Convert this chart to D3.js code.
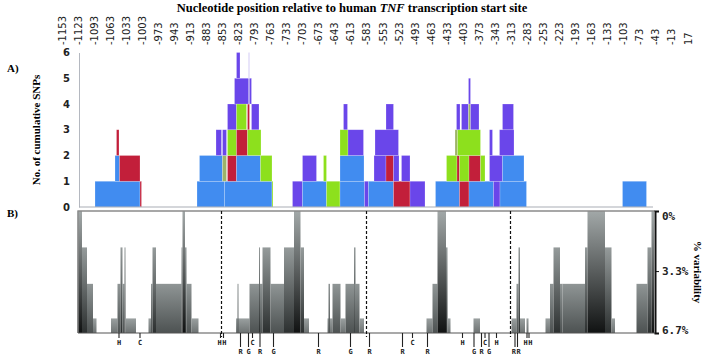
<!DOCTYPE html>
<html>
<head>
<meta charset="utf-8">
<script src="https://cdn.jsdelivr.net/npm/d3@7"></script>
<style>
body { margin: 0; background: #fff; }
</style>
</head>
<body>
<div id="chart"></div>
<script>

// top ruler labels (nucleotide positions)
const tickLabels = ["-1153","-1123","-1093","-1063","-1033","-1003","-973","-943","-913","-883",
	"-853","-823","-793","-763","-733","-703","-673","-643","-613","-583",
	"-553","-523","-493","-463","-433","-403","-373","-343","-313","-283",
	"-253","-223","-193","-163","-133","-103","-73","-43","-13","17"]

const snpTicks = [0, 1, 2, 3, 4, 5, 6]

// SNP blocks: [from nt, to nt, stack level, colour code]
const snpBlocks = [
	[-1128,-1038,0,"b"], [-1038,-1035,0,"r"], [-1088,-1079,1,"b"], [-1079,-1038,1,"r"], [-1085,-1080,2,"r"],

	[-924,-869,0,"b"], [-869,-774,0,"b"], [-774,-772,0,"g"],
	[-919,-873,1,"b"], [-873,-865,1,"o"], [-863,-845,1,"r"], [-845,-797,1,"b"], [-797,-774,1,"g"],
	[-886,-875,2,"p"], [-873,-865,2,"p"], [-863,-845,2,"g"], [-845,-823,2,"r"], [-823,-796,2,"g"],
	[-863,-845,3,"p"], [-845,-825,3,"g"], [-823,-819,3,"r"], [-815,-800,3,"p"],
	[-849,-815,4,"p"], [-821,-819,4,"l"],
	[-845,-838,5,"p"], [-821,-819,5,"l"],

	[-733,-713,0,"p"], [-713,-665,0,"b"], [-665,-638,0,"g"], [-638,-589,0,"b"], [-589,-581,0,"p"],
	[-581,-531,0,"b"], [-531,-498,0,"r"], [-498,-468,0,"p"],
	[-713,-685,1,"p"], [-671,-665,1,"g"], [-638,-590,1,"b"], [-570,-546,1,"p"], [-546,-531,1,"r"],
	[-531,-520,1,"p"], [-515,-498,1,"p"],
	[-638,-622,2,"g"], [-622,-591,2,"p"], [-568,-521,2,"p"],
	[-631,-623,3,"p"], [-546,-531,3,"p"],

	[-447,-399,0,"b"], [-399,-380,0,"r"], [-380,-331,0,"b"], [-331,-318,0,"p"], [-318,-265,0,"b"],
	[-425,-404,1,"g"], [-404,-399,1,"r"], [-399,-380,1,"g"], [-380,-357,1,"r"], [-357,-348,1,"g"],
	[-339,-313,1,"p"], [-313,-270,1,"b"],
	[-408,-403,2,"o"], [-403,-357,2,"g"], [-339,-333,2,"p"], [-319,-290,2,"p"],
	[-405,-398,3,"p"], [-395,-381,3,"p"], [-381,-377,3,"o"], [-377,-360,3,"p"], [-313,-291,3,"p"],
	[-381,-377,4,"p"],

	[-73,-25,0,"b"]
]

// variability bars: [from nt, to nt, % variability]
const varBars = [
	[-1163,-1154,0], [-1154,-1144,2], [-1144,-1132,4], [-1132,-1125,5.9],
	[-1096,-1083,5.9], [-1083,-1077,4], [-1077,-1073,2], [-1073,-1069,4], [-1069,-1067,2], [-1067,-1046,5.9],
	[-1021,-1016,5.9], [-1016,-1013,4], [-1013,-1006,2], [-1006,-996,4], [-996,-955,4],
	[-955,-953,2], [-953,-948,0], [-948,-945,2], [-945,-935,4], [-935,-921,5.9],
	[-846,-819,5.9], [-843,-841,4], [-819,-793,4], [-800,-798,2], [-793,-777,2], [-777,-750,4],
	[-750,-730,2], [-730,-717,0], [-717,-710,2], [-710,-700,5.9],
	[-663,-653,5.9], [-661,-658,4], [-653,-637,4], [-637,-627,5.9], [-627,-609,4], [-610,-607,2],
	[-609,-599,4], [-599,-590,5.9],
	[-465,-453,5.9], [-453,-443,4], [-443,-426,0], [-426,-423,2], [-423,-417,5.9],
	[-371,-358,5.9],
	[-295,-285,5.9], [-285,-281,4], [-281,-278,2], [-278,-268,5.9], [-265,-261,5.9],
	[-227,-218,5.9], [-218,-211,4], [-211,-198,2], [-198,-193,4], [-193,-148,4], [-148,-143,2],
	[-143,-108,0], [-108,-95,2], [-95,-88,5.9],
	[-45,-23,4], [-23,-15,2], [-15,-10,0]
]

const varTicks = [0, 3.3, 6.7]

// residue markers under panel B: [nt, letter, row]
const markers = [
	[-1080,"H",1], [-1038,"C",1], [-877,"H",1], [-871,"H",1], [-813,"C",1], [-493,"C",1],
	[-393,"H",1], [-348,"C",1], [-325,"H",1], [-264,"H",1], [-260,"H",1],
	[-837,"R",2], [-821,"G",2], [-798,"R",2], [-771,"G",2], [-681,"R",2], [-617,"G",2],
	[-579,"R",2], [-513,"R",2], [-463,"R",2], [-370,"G",2], [-355,"R",2], [-340,"G",2],
	[-288,"R",2], [-283,"R",2]
]

const dividers = [-875, -585, -297]

const colors = {b: "#418cf0", r: "#c21f3a", g: "#8de01d", p: "#6a46ea", o: "#9db468", l: "#c9c0f3"}

const width = 704, height = 356

const svg = d3.select("#chart").append("svg")
	.attr("width", width)
	.attr("height", height)
	.style("font-family", "'Liberation Serif', serif")

// gradients for grey bars, darker with height
const defs = svg.append("defs")
const gradStops = {"0": ["#a2a8a8", "#101212"], "2": ["#959b9b", "#2c3030"], "4": ["#8f9595", "#4d5252"], "5.9": ["#9aa0a0", "#6d7272"]}
Object.keys(gradStops).forEach(function(k, i) {
	let g = defs.append("linearGradient")
		.attr("id", "gv" + i)
		.attr("x1", 0).attr("x2", 0).attr("y1", 0).attr("y2", 1)
	g.append("stop").attr("offset", "0%").attr("stop-color", gradStops[k][0])
	g.append("stop").attr("offset", "100%").attr("stop-color", gradStops[k][1])
})
const gradId = function(v) { return "url(#gv" + Object.keys(gradStops).indexOf(String(v)) + ")" }

// title
const title = svg.append("text")
	.attr("x", 352).attr("y", 12)
	.attr("text-anchor", "middle")
	.style("font-size", "12.5px")
	.style("font-weight", "bold")
title.append("tspan").text("Nucleotide position relative to human ")
title.append("tspan").style("font-style", "italic").text("TNF")
title.append("tspan").text(" transcription start site")

// ruler labels
const xLab = d3.scalePoint().domain(tickLabels).range([62, 688])
svg.append("g").selectAll("text")
	.data(tickLabels)
	.enter()
	.append("text")
	.attr("transform", function(d) { return "translate(" + xLab(d) + ",45) rotate(-90)" })
	.attr("dy", "0.35em")
	.style("font-family", "'DejaVu Sans', sans-serif")
	.style("font-size", "10px")
	.style("fill", "#222")
	.text(function(d) { return d })

// shared nucleotide scale
const x = d3.scaleLinear().domain([-1160, -12]).range([79, 653])

// ---- panel A
const ySnp = d3.scaleLinear().domain([0, 6]).range([207, 52.5])

svg.append("text").attr("x", 7).attr("y", 72)
	.style("font-size", "11px").style("font-weight", "bold").text("A)")

svg.append("text")
	.attr("transform", "translate(40,130) rotate(-90)")
	.attr("text-anchor", "middle")
	.style("font-size", "11px")
	.style("font-weight", "bold")
	.text("No. of cumulative SNPs")

svg.append("g").selectAll("rect")
	.data(snpBlocks)
	.enter()
	.append("rect")
	.attr("x", function(d) { return x(d[0]) })
	.attr("width", function(d) { return x(d[1]) - x(d[0]) })
	.attr("y", function(d) { return ySnp(d[2] + 1) })
	.attr("height", function(d) { return ySnp(d[2]) - ySnp(d[2] + 1) })
	.attr("fill", function(d) { return colors[d[3]] })
	.attr("stroke", "#fff")
	.attr("stroke-opacity", 0.35)
	.attr("stroke-width", 0.6)

const yAxisA = svg.append("g")
	.attr("transform", "translate(79,0)")
	.call(d3.axisLeft(ySnp).tickValues(snpTicks).tickSize(0).tickPadding(9).tickFormat(d3.format("d")))
yAxisA.select(".domain").attr("stroke", "#b4b8c0")
yAxisA.selectAll("text")
	.style("font-family", "'DejaVu Sans', sans-serif")
	.style("font-size", "10px")
	.style("font-weight", "bold")
	.style("fill", "#222")

svg.append("line")
	.attr("x1", x.range()[0]).attr("x2", x.range()[1])
	.attr("y1", ySnp(0)).attr("y2", ySnp(0))
	.attr("stroke", "#a9adb5").attr("stroke-width", 1.2)

// ---- panel B
const yVar = d3.scaleLinear().domain([0, 6.7]).range([211, 333])

svg.append("text").attr("x", 7).attr("y", 217)
	.style("font-size", "11px").style("font-weight", "bold").text("B)")

svg.append("g").selectAll("rect")
	.data(varBars)
	.enter()
	.append("rect")
	.attr("x", function(d) { return x(d[0]) })
	.attr("width", function(d) { return x(d[1]) - x(d[0]) })
	.attr("y", function(d) { return yVar(d[2]) })
	.attr("height", function(d) { return yVar(6.7) - yVar(d[2]) })
	.attr("fill", function(d) { return gradId(d[2]) })

// frame
svg.append("path")
	.attr("d", "M" + x(-1162) + "," + yVar(6.7) + "V" + yVar(0) + "H" + x(-8))
	.attr("fill", "none").attr("stroke", "#8a8a8a").attr("stroke-width", 1.3)
svg.append("line")
	.attr("x1", x(-1162)).attr("x2", x(-8))
	.attr("y1", yVar(6.7)).attr("y2", yVar(6.7))
	.attr("stroke", "#555").attr("stroke-width", 1.2)

svg.append("g").selectAll("line")
	.data(dividers)
	.enter()
	.append("line")
	.attr("x1", function(d) { return x(d) }).attr("x2", function(d) { return x(d) })
	.attr("y1", yVar(0)).attr("y2", yVar(6.7) + 4)
	.attr("stroke", "#111").attr("stroke-width", 1.2).attr("stroke-dasharray", "3,2")

const yAxisB = svg.append("g")
	.attr("transform", "translate(" + x(-8) + ",0)")
	.call(d3.axisRight(yVar).tickValues(varTicks).tickSize(4).tickPadding(3).tickFormat(function(d) { return d + "%" }))
yAxisB.select(".domain").attr("stroke", "#111").attr("stroke-width", 2)
yAxisB.selectAll(".tick line").attr("stroke", "#111")
yAxisB.selectAll("text")
	.attr("dy", function(d, i) { return i == 0 ? "0.75em" : (i == 2 ? "0" : "0.35em") })
	.style("font-family", "'DejaVu Sans Mono', monospace")
	.style("font-size", "11px")
	.style("font-weight", "bold")
	.style("fill", "#222")

svg.append("text")
	.attr("transform", "translate(694,272) rotate(90)")
	.attr("text-anchor", "middle")
	.style("font-size", "11px")
	.style("font-weight", "bold")
	.text("% variability")

// residue markers; close pairs on a row are set side by side
const near = function(a, b) { return a && b && a[2] == b[2] && Math.abs(x(a[0]) - x(b[0])) < 7 }
const mk = svg.append("g").selectAll("g")
	.data(markers)
	.enter()
	.append("g")
	.attr("transform", function(d) { return "translate(" + x(d[0]) + "," + yVar(6.7) + ")" })
mk.append("line")
	.attr("y1", 0)
	.attr("y2", function(d) { return d[2] == 1 ? 5 : 14 })
	.attr("stroke", "#222").attr("stroke-width", 1.1)
mk.append("text")
	.attr("y", function(d) { return d[2] == 1 ? 12 : 21 })
	.attr("x", function(d, i) {
		let nb = markers.find(function(m) { return m !== d && near(m, d) })
		return nb ? (x(nb[0]) - x(d[0])) / 2 + (nb[0] > d[0] ? -0.3 : 0.3) : 0
	})
	.attr("text-anchor", function(d) {
		let nb = markers.find(function(m) { return m !== d && near(m, d) })
		if (!nb) return "middle"
		return nb[0] > d[0] ? "end" : "start"
	})
	.style("font-family", "'DejaVu Sans Mono', monospace")
	.style("font-size", "7px")
	.style("font-weight", "bold")
	.style("fill", "#222")
	.text(function(d) { return d[1] })

</script>
</body>
</html>
